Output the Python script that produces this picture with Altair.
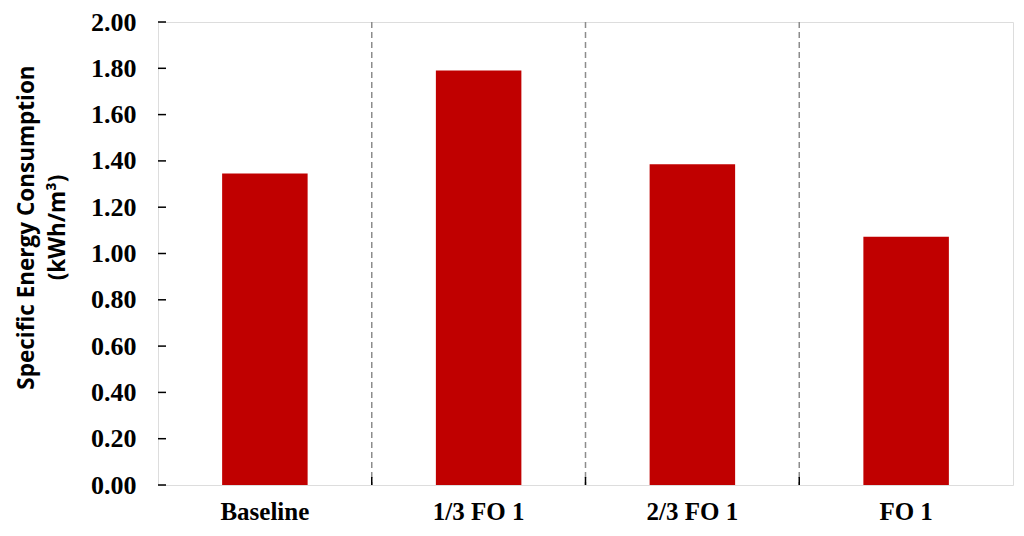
import altair as alt
import pandas as pd

categories = ["Baseline", "1/3 FO 1", "2/3 FO 1", "FO 1"]
values = [1.346, 1.79, 1.385, 1.072]
y_ticks = [0.0, 0.2, 0.4, 0.6, 0.8, 1.0, 1.2, 1.4, 1.6, 1.8, 2.0]

W, H = 855, 463

df = pd.DataFrame({"cat": categories, "val": values})
sep_df = pd.DataFrame({"cat": categories[1:]})
tick_df = pd.DataFrame({"t": y_ticks})

x_scale = alt.Scale(domain=categories, paddingInner=0.6, paddingOuter=0.3)
sep_scale = alt.Scale(domain=categories, paddingInner=0, paddingOuter=0)
y_scale = alt.Scale(domain=[0, 2], nice=False)

bars = alt.Chart(df).mark_bar(color="#C00000").encode(
    x=alt.X("cat:N", scale=x_scale, sort=categories,
            axis=alt.Axis(title=None, labelAngle=0, ticks=False, domain=False,
                          labelFont="Liberation Serif", labelFontWeight="bold",
                          labelFontSize=25, labelColor="black", labelPadding=14)),
    y=alt.Y("val:Q", scale=y_scale,
            axis=alt.Axis(values=y_ticks, format=".2f", ticks=False, domain=False,
                          grid=False,
                          labelFont="Liberation Serif", labelFontWeight="bold",
                          labelFontSize=26, labelColor="black", labelPadding=22,
                          title=["Specific Energy Consumption", "(kWh/m³)"],
                          titleFont="Open Sans", titleFontWeight="bold",
                          titleFontSize=22.5, titleColor="black",
                          titleAngle=270, titleX=-132, titleY=205,
                          titleBaseline="middle", titleAlign="center",
                          titleLineHeight=31)),
)

seps = alt.Chart(sep_df).mark_rule(color="#8c8c8c", strokeDash=[6, 4], strokeWidth=1.5).encode(
    x=alt.X("cat:N", scale=sep_scale, sort=categories, bandPosition=0, axis=None),
)

sep_ticks = alt.Chart(sep_df).mark_rule(color="black", strokeWidth=1.5).encode(
    x=alt.X("cat:N", scale=sep_scale, sort=categories, bandPosition=0, axis=None),
    y=alt.value(H - 8), y2=alt.value(H),
)

yticks = alt.Chart(tick_df).mark_rule(color="black", strokeWidth=1.5).encode(
    y=alt.Y("t:Q", scale=y_scale),
    x=alt.value(0), x2=alt.value(8),
)

chart = alt.layer(alt.layer(seps, sep_ticks), bars, yticks).resolve_scale(x="independent").properties(
    width=W, height=H,
    autosize=alt.AutoSizeParams(type="none"),
    padding={"left": 150, "top": 14, "right": 3, "bottom": 43},
).configure_view(stroke="black", strokeWidth=2).configure(background="white")

chart.save("out.html", embed_options={"renderer": "svg", "actions": False})
